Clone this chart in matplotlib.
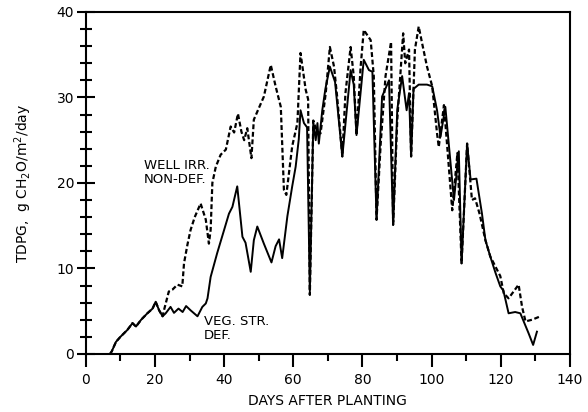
import matplotlib
matplotlib.use('Agg')
from matplotlib import pyplot as plt
from matplotlib.ticker import MultipleLocator

# VEG. STR. DEF. (solid line)
veg_days = [7.0, 7.5, 8.7, 10, 12, 13.5, 14.5, 16, 17.8, 19.3, 20.2, 21.2, 22.2,
            23.1, 24.5, 25.5, 26.8, 28, 29, 30.3, 32.3, 33.7, 34.7, 35.2, 36.1,
            38, 40, 41.4, 42.4, 43.8, 45.3, 46.2, 47.7, 48.6, 49.6, 51.5, 53.7,
            54.9, 55.9, 56.8, 58.3, 59.7, 60.7, 61.6, 62.1, 63.1, 64.0, 64.8,
            65.8, 66.5, 67.0, 67.4, 68.4, 69.3, 70.6, 72.1, 74.2, 76.6, 77.5,
            78.3, 80.4, 81.9, 82.9, 84.1, 85.7, 87.7, 88.9, 90.1, 91.5, 92.8,
            93.5, 94.1, 94.8, 96.3, 98.7, 100.2, 101.6, 102.6, 104.0, 106.5,
            107.9, 108.7, 110.3, 111.3, 113.0, 114.6, 115.6, 117.0, 118.5,
            119.9, 120.8, 122.3, 124.2, 125.7, 128.1, 129.4, 130.5]
veg_tdpg = [0, 0.3, 1.4, 2.0, 2.8, 3.6, 3.2, 4.0, 4.75, 5.3, 6.1, 5.1, 4.4,
            4.75, 5.5, 4.8, 5.3, 4.9, 5.6, 5.1, 4.4, 5.5, 5.9, 6.5, 9.0,
            11.8, 14.5, 16.4, 17.2, 19.6, 13.7, 13.0, 9.6, 13.3, 14.9, 12.9, 10.7,
            12.6, 13.4, 11.2, 16.1, 19.6, 21.9, 25.1, 28.5, 27.0, 26.5, 7.3,
            27.0, 25.0, 27.0, 24.6, 28.5, 31.0, 33.6, 31.8, 23.1, 33.2, 31.5,
            25.6, 34.4, 33.2, 33.0, 15.7, 30.1, 32.0, 15.1, 28.6, 32.5, 28.5,
            30.5, 23.1, 31.0, 31.5, 31.5, 31.3, 28.5, 25.4, 28.9, 18.0,
            23.7, 10.6, 24.6, 20.4, 20.5, 16.4, 13.3, 11.4, 9.5,
            7.9, 7.4, 4.75, 4.9, 4.75, 2.4, 1.05, 2.6]

# WELL IRR. NON-DEF. (dashed line), same as solid until day 22
well_days = [7.0, 7.5, 8.7, 10, 12, 13.5, 14.5, 16, 17.8, 19.3, 20.2, 21.2, 22.2,
             22.6, 24.0, 25.0, 26.5, 27.9, 28.4, 29.4, 30.3, 31.5, 33.2, 34.7,
             35.6, 36.1, 36.6, 37.6, 39.0, 40.5, 41.9, 42.9, 44.0, 45.0, 45.8,
             46.7, 47.9, 48.6, 50.1, 51.5, 53.5, 54.9, 56.4, 57.3, 58.0, 59.7,
             61.2, 62.1, 63.6, 64.3, 64.8, 65.8, 66.8, 67.9, 69.4, 70.6, 71.8,
             72.7, 74.2, 75.1, 76.6, 77.5, 78.3, 79.5, 80.4, 82.4, 83.3, 84.1,
             85.3, 86.7, 88.3, 88.9, 90.1, 91.8, 92.4, 93.5, 94.1, 95.2, 96.3,
             97.3, 98.7, 100.2, 101.6, 102.1, 103.6, 106.0, 107.5, 108.7, 110.3,
             111.7, 112.6, 113.9, 115.6, 117.0, 119.9, 120.9, 122.3, 125.2,
             126.2, 127.2, 129.1, 131.5]
well_tdpg = [0, 0.3, 1.4, 2.0, 2.8, 3.6, 3.2, 4.0, 4.75, 5.3, 6.1, 5.1, 4.4,
             5.1, 7.3, 7.5, 8.1, 7.9, 10.6, 12.8, 14.5, 16.0, 17.6, 15.7,
             12.9, 14.5, 20.0, 21.9, 23.3, 23.9, 26.6, 25.9, 28.1, 26.0, 25.0,
             26.4, 22.9, 27.4, 28.8, 30.1, 33.8, 31.3, 28.9, 19.2, 18.6, 24.3,
             27.0, 35.2, 30.9, 29.8, 6.9, 27.3, 26.0, 25.8, 30.5, 35.9, 33.6,
             30.1, 23.1, 30.5, 35.9, 32.5, 25.6, 33.6, 37.9, 36.7, 32.5, 15.7,
             24.6, 32.5, 36.5, 15.1, 27.4, 37.5, 34.0, 35.6, 23.1, 35.6, 38.3,
             36.3, 33.6, 31.3, 25.8, 24.2, 29.1, 16.8, 23.5, 10.6, 24.6,
             18.0, 18.2, 16.4, 13.3, 11.4, 9.1, 7.1, 6.5, 8.1,
             5.5, 3.8, 4.0, 4.4]

fig = plt.figure(figsize=(5.88, 4.12), dpi=100)
ax = fig.add_axes([0.146, 0.141, 0.823, 0.83])

ax.plot(well_days, well_tdpg, color='black', lw=1.6, dashes=(2.2, 1.2))
ax.plot(veg_days, veg_tdpg, color='black', lw=1.4)

ax.set_xlim(0, 140)
ax.set_ylim(0, 40)
ax.xaxis.set_major_locator(MultipleLocator(20))
ax.xaxis.set_minor_locator(MultipleLocator(10))
ax.yaxis.set_major_locator(MultipleLocator(10))
ax.yaxis.set_minor_locator(MultipleLocator(2))
ax.tick_params(axis='x', which='major', direction='out', length=9, width=1.5, labelsize=10, pad=5)
ax.tick_params(axis='x', which='minor', direction='out', length=5, width=1.5)
ax.tick_params(axis='y', which='major', direction='inout', length=13, width=1.5, labelsize=10, pad=2)
ax.tick_params(axis='y', which='minor', direction='inout', length=8, width=1.5)
for s in ax.spines.values():
    s.set_linewidth(1.5)

# labels on the curves
ax.text(16.8, 22.8, 'WELL IRR.\nNON-DEF.', fontsize=9.5, va='top', ha='left', linespacing=1.1)
ax.text(34.1, 4.6, 'VEG. STR.\nDEF.', fontsize=9.5, va='top', ha='left', linespacing=1.1)

ax.set_xlabel('DAYS AFTER PLANTING', fontsize=10, labelpad=5)
ax.set_ylabel('TDPG,  g CH$_2$O/m$^2$/day', fontsize=10, labelpad=16)

plt.savefig('out.png', dpi=100)
